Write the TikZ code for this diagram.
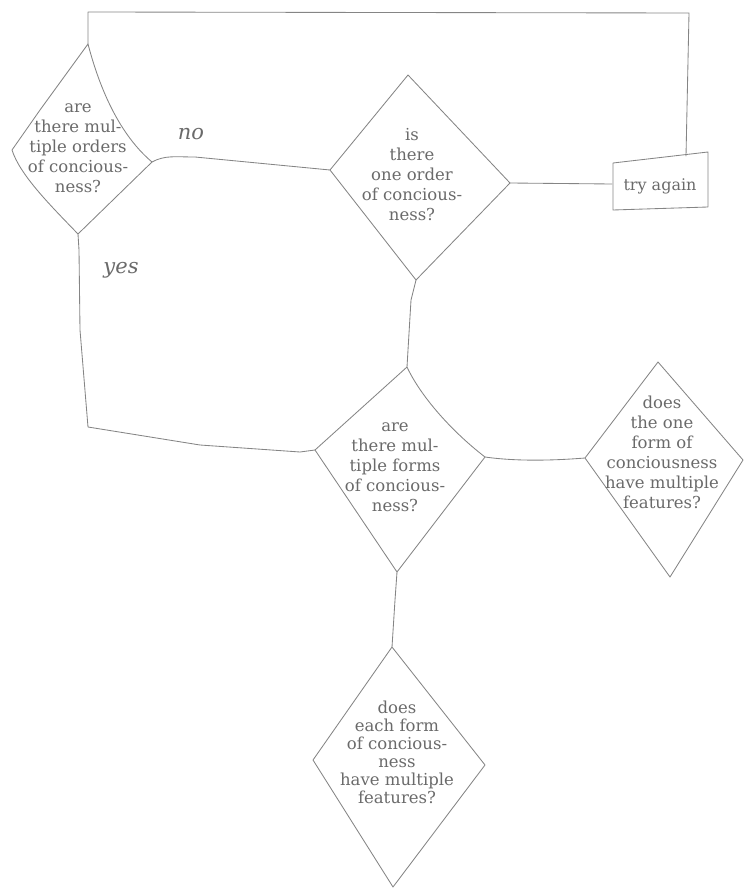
\documentclass[tikz,border=0pt]{standalone}
\usepackage{fontspec}
\setmainfont{DejaVu Serif}
\definecolor{linec}{HTML}{858585}
\definecolor{textc}{HTML}{6A6A6A}
\tikzset{
  conn/.style={draw=linec, line width=0.85pt, line join=round, line cap=round},
  shapeline/.style={draw=linec, line width=0.85pt, line join=round},
  qtext/.style={text=textc, align=center, font=\fontsize{16.5}{20}\selectfont, inner sep=0pt},
  lbl/.style={text=textc, font=\fontsize{21}{24}\selectfont\itshape, inner sep=0pt}
}
\begin{document}
\begin{tikzpicture}[x=1pt,y=-1pt]
\useasboundingbox (0,0) rectangle (745,893);
% diamond 1
\coordinate (d1t) at (88,44);
\coordinate (d1r) at (152,162);
\coordinate (d1b) at (78,234);
\coordinate (d1l) at (12,150);
\draw[shapeline] (d1t) .. controls (100,90) and (120,135) .. (d1r) -- (d1b) .. controls (50,205) and (20,175) .. (d1l) -- (40,110) -- cycle;
\node[qtext] (q1) at (78,148) {are\\there mul-\\tiple orders\\of concious-\\ness?};
% diamond 2
\coordinate (d2t) at (408,75);
\coordinate (d2r) at (510,183);
\coordinate (d2b) at (416,280);
\coordinate (d2l) at (330,170);
\draw[shapeline] (d2t) -- (d2r) -- (d2b) -- (d2l) -- cycle;
\node[qtext] (q2) at (412,175) {is\\there\\one order\\of concious-\\ness?};
% try again box
\coordinate (bxl) at (612,184);
\coordinate (bxt) at (686,156);
\draw[shapeline] (613,163) -- (708,152) -- (708,207) -- (613,210) -- cycle;
\node[text=textc, font=\fontsize{16}{20}\selectfont, inner sep=0pt] (try) at (660,186) {try again};
% diamond 3
\coordinate (d3t) at (407,367);
\coordinate (d3r) at (485,457);
\coordinate (d3b) at (397,572);
\coordinate (d3l) at (315,450);
\draw[shapeline] (d3t) .. controls (420,395) and (450,430) .. (d3r) -- (d3b) -- (d3l) -- cycle;
\node[qtext] (q3) at (395,467) {are\\there mul-\\tiple forms\\of concious-\\ness?};
% diamond 4
\coordinate (d4t) at (658,362);
\coordinate (d4r) at (743,460);
\coordinate (d4b) at (670,577);
\coordinate (d4l) at (585,458);
\draw[shapeline] (d4t) -- (d4r) -- (d4b) -- (d4l) -- cycle;
\node[qtext] (q4) at (662,452) {does\\the one\\form of\\conciousness\\have multiple\\features?};
% diamond 5
\coordinate (d5t) at (392,647);
\coordinate (d5r) at (485,765);
\coordinate (d5b) at (393,887);
\coordinate (d5l) at (313,760);
\draw[shapeline] (d5t) -- (d5r) -- (d5b) -- (d5l) -- cycle;
\node[qtext, font=\fontsize{16.5}{18}\selectfont] (q5) at (397,752) {does\\each form\\of concious-\\ness\\have multiple\\features?};
% connectors
\coordinate (topl) at (88,12);
\coordinate (topr) at (689,13);
\coordinate (yc) at (88,427);
\draw[conn] (d1r) .. controls (165,155) and (175,157) .. (195,157) -- (d2l);
\draw[conn] (d2r) -- (bxl);
\draw[conn] (bxt) -- (topr) -- (topl) -- (d1t);
\draw[conn] (d2b) -- (411,300) -- (408,350) -- (d3t);
\draw[conn] (d1b) -- (79,250) -- (80,330) -- (yc) -- (200,445) -- (300,452) -- (d3l);
\draw[conn] (d3r) .. controls (520,462) and (560,460) .. (d4l);
\draw[conn] (d3b) -- (395,600) -- (d5t);
% labels
\node[lbl] (no) at (191,134) {no};
\node[lbl] (yes) at (121,270) {yes};
\end{tikzpicture}
\end{document}
